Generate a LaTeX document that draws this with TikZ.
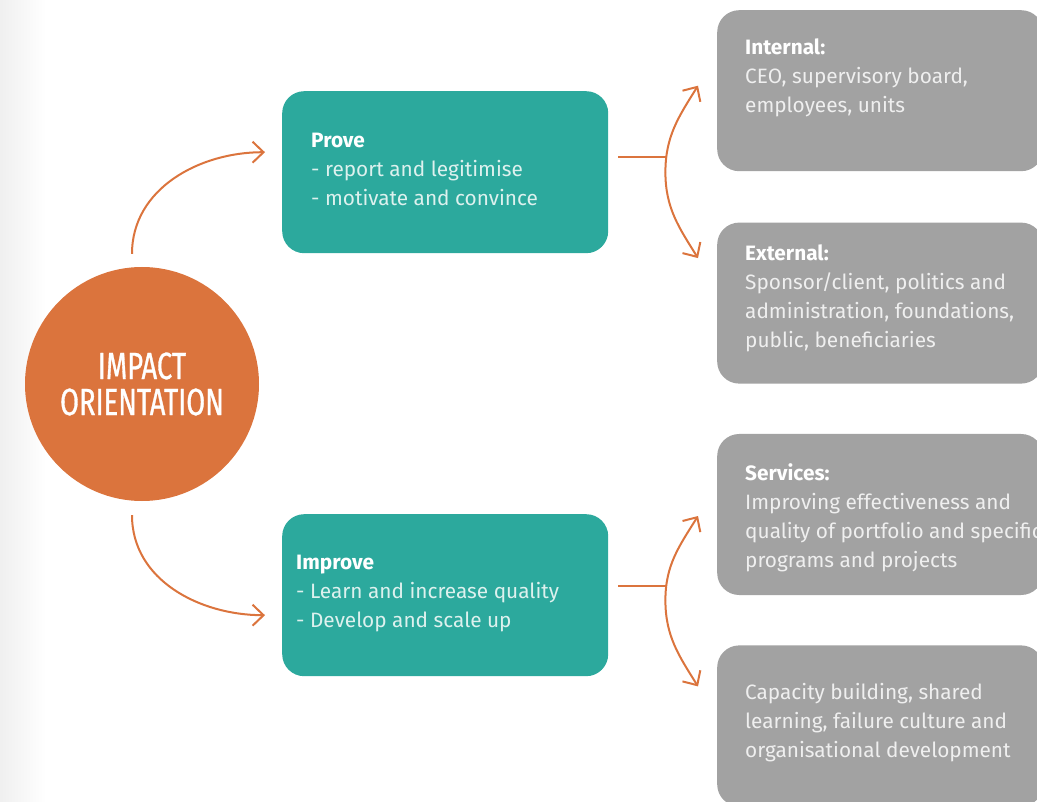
\documentclass[tikz,border=0pt]{standalone}
\usepackage{fontspec}
\setmainfont{Fira Sans}
\newfontfamily\condfont{Fira Sans}[FakeStretch=0.72, FakeBold=0.8]
\usetikzlibrary{
	arrows.meta,
	positioning
}

\definecolor{impactorange}{HTML}{DB743D}
\definecolor{proveteal}{HTML}{2CA99D}
\definecolor{boxgray}{HTML}{A2A2A2}
\definecolor{tealtext}{HTML}{DDF1EE}
\definecolor{graytext}{HTML}{EFEFEF}

\tikzset{
	arr/.style={draw=impactorange, line width=2pt, -{Straight Barb[length=11pt,width=21pt]}},
	orangeline/.style={draw=impactorange, line width=2pt},
	greenbox/.style={fill=proveteal, rounded corners=22pt, minimum width=326pt, minimum height=162pt},
	graybox/.style={fill=boxgray, rounded corners=22pt, minimum width=326pt, minimum height=161pt},
	boxtext/.style={anchor=north west, inner sep=0pt, align=left, font=\fontsize{20.8}{29}\selectfont}
}

\begin{document}
\begin{tikzpicture}[x=1pt, y=-1pt]

		\useasboundingbox (0,0) rectangle (1037,802);
		\clip (0,0) rectangle (1037,802);
		\shade[left color=black!6, right color=white] (0,0) rectangle (46,802);

		\node[circle, fill=impactorange, minimum size=234pt, inner sep=0pt, text=white, align=center,
			font=\condfont\fontsize{38}{36}\selectfont] (impact) at (142,384) {IMPACT\\ORIENTATION};

		\node[greenbox, anchor=north west] (prove) at (282,91) {};
		\node[greenbox, anchor=north west] (improve) at (282,514) {};

		\node[boxtext, text=tealtext, below right=42pt and 29pt of prove.north west] (provetxt)
			{\textbf{\color{white}Prove}\\- report and legitimise\\- motivate and convince};
		\node[boxtext, text=tealtext, below right=41pt and 14pt of improve.north west] (improvetxt)
			{\textbf{\color{white}Improve}\\- Learn and increase quality\\- Develop and scale up};

		\node[graybox, anchor=north west] (int) at (717,10) {};
		\node[graybox, below=51pt of int] (ext) {};
		\node[graybox, below=50pt of ext] (serv) {};
		\node[graybox, below=50pt of serv] (cap) {};

		\node[boxtext, text=graytext, below right=29pt and 28pt of int.north west] (inttxt)
			{\textbf{\color{white}Internal:}\\CEO, supervisory board,\\employees, units};
		\node[boxtext, text=graytext, below right=22.5pt and 28pt of ext.north west] (exttxt)
			{\textbf{\color{white}External:}\\Sponsor/client, politics and\\administration, foundations,\\public, beneficiaries};
		\node[boxtext, text=graytext, below right=29.5pt and 28pt of serv.north west] (servtxt)
			{\textbf{\color{white}Services:}\\Improving effectiveness and\\quality of portfolio and specific\\programs and projects};
		\node[boxtext, text=graytext, below right=38pt and 28pt of cap.north west] (captxt)
			{Capacity building, shared\\learning, failure culture and\\organisational development};

		\coordinate (up0) at ([xshift=-10pt,yshift=13pt]impact.north);
		\coordinate (up1) at ([xshift=-17pt,yshift=20pt]prove.west);
		\coordinate (dn0) at ([xshift=-10pt,yshift=-14pt]impact.south);
		\coordinate (dn1) at ([xshift=-17pt,yshift=-20pt]improve.west);

		\draw[arr] (up0) to[out=90,in=180] (up1);
		\draw[arr] (dn0) to[out=270,in=180] (dn1);

		\coordinate (b1) at ([xshift=57pt]prove.east);
		\coordinate (t1) at ([xshift=-19pt,yshift=5pt]int.west);
		\coordinate (t2) at ([xshift=-19pt,yshift=45pt]ext.west);
		\draw[orangeline] ([xshift=10pt,yshift=15pt]prove.east) -- ++(48pt,0);
		\draw[arr] (b1) to[out=90,in=238] (t1);
		\draw[arr] (b1) to[out=270,in=122] (t2);

		\coordinate (b2) at ([xshift=57pt,yshift=-5pt]improve.east);
		\coordinate (t3) at ([xshift=-19pt,yshift=-1.5pt]serv.west);
		\coordinate (t4) at ([xshift=-19pt,yshift=39.5pt]cap.west);
		\draw[orangeline] ([xshift=10pt,yshift=9pt]improve.east) -- ++(48pt,0);
		\draw[arr] (b2) to[out=90,in=238] (t3);
		\draw[arr] (b2) to[out=270,in=122] (t4);

	\end{tikzpicture}
\end{document}
